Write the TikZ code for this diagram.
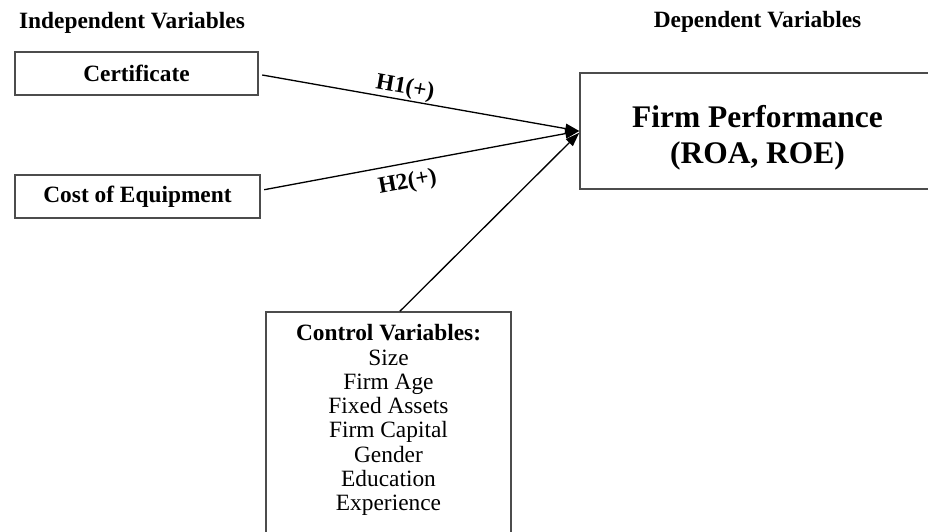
\documentclass[tikz,border=0pt]{standalone}
\usepackage{fontspec}
\setmainfont{Liberation Serif}
\usetikzlibrary{arrows.meta}

\begin{document}
\begin{tikzpicture}[x=0.02cm, y=0.02cm, line width=0.75pt,
  varbox/.style={draw=black!70, line width=0.9pt, inner sep=0pt},
  title/.style={font=\fontsize{13.3}{16}\selectfont\bfseries, anchor=base},
  hypo/.style={-{Triangle[length=8pt,width=5.5pt]}},
  hlabel/.style={font=\fontsize{13.3}{16}\selectfont\bfseries, sloped}]
\useasboundingbox (0,0) rectangle (928,-531);
\clip (0,0) rectangle (928,-531);

% 标题
\node[title] (indep) at (132,-28) {Independent Variables};
\node[title] (dep) at (757.5,-27) {Dependent Variables};

% 自变量
\node[varbox, minimum width=4.86cm, minimum height=0.86cm,
  font=\fontsize{13.3}{16}\selectfont\bfseries] (cert) at (136.5,-73.5) {Certificate};
\node[varbox, minimum width=4.9cm, minimum height=0.86cm,
  font=\fontsize{13.3}{16}\selectfont\bfseries] (cost) at (137.5,-196.5) {Cost of Equipment};

% 因变量
\node[varbox, minimum width=7.1cm, minimum height=2.32cm] (firm) at (757.5,-131) {};
\node[inner sep=0pt, align=center,
  font=\fontsize{17.9}{20.5}\selectfont\bfseries] (firmtext) at (757.5,-138) {Firm Performance\\(ROA, ROE)};

% 控制变量
\node[varbox, minimum width=4.9cm, minimum height=4.66cm] (ctrl) at (388.5,-428.5) {};
\node[anchor=north, inner sep=0pt, align=center,
  font=\fontsize{13.3}{13.8}\selectfont] (ctrltext) at (388.5,-324)
  {\textbf{Control Variables:}\\Size\\Firm Age\\Fixed Assets\\Firm Capital\\Gender\\Education\\Experience};

% 箭头及假设
\draw[hypo, shorten <=2pt] ([yshift=-0.5pt]cert.east) -- (firm.west)
  node[hlabel, pos=0.45, above=-3pt] {H1(+)};
\draw[hypo, shorten <=2pt] ([yshift=3.5pt]cost.east) -- (firm.west)
  node[hlabel, pos=0.45, below=1.3pt] {H2(+)};
\draw[hypo] ([xshift=6.5pt]ctrl.north) -- ([yshift=-1pt]firm.west);
\end{tikzpicture}
\end{document}
